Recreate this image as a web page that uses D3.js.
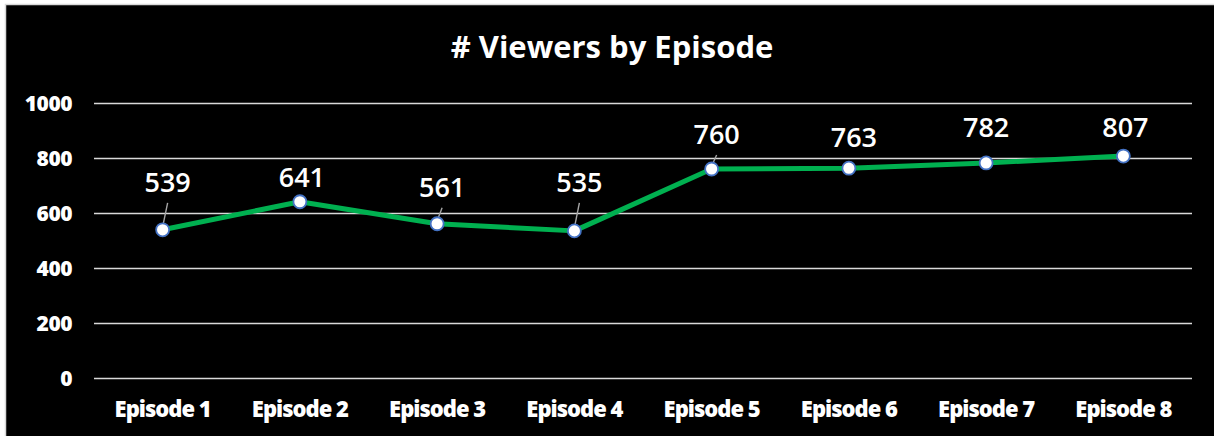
<!DOCTYPE html>
<html>
<head>
<meta charset="utf-8">
<script src="https://cdn.jsdelivr.net/npm/d3@7"></script>
<style>
  html, body { margin: 0; padding: 0; background: #fff; }
  svg { display: block; }
  text { font-family: "Open Sans", "Noto Sans", sans-serif; fill: #fff; }
</style>
</head>
<body>
<svg id="chart" width="1214" height="436"></svg>
<script>
// ---- data ----
const categories = ["Episode 1", "Episode 2", "Episode 3", "Episode 4", "Episode 5", "Episode 6", "Episode 7", "Episode 8"];
const viewers = [539, 641, 561, 535, 760, 763, 782, 807];
const yTicks = [0, 200, 400, 600, 800, 1000];
const titleText = "# Viewers by Episode";

// ---- layout (label nudges relative to each point, in px) ----
const labelDx = [5, 2, 5, 5, 5, 5, 0, 2];
const labelDy = [-38, -15, -27, -39, -25, -21, -26, -19];
const leaderShown = [true, false, true, true, true, false, false, false];

const W = 1214, H = 436;
const plot = { left: 94, right: 1192, top: 103, bottom: 378 };

const svg = d3.select("#chart");

// background frame
svg.append("rect")
  .attr("x", 5.5).attr("y", 4.5)
  .attr("width", W).attr("height", H)
  .attr("fill", "#000")
  .attr("stroke", "#d9d9d9").attr("stroke-width", 1.5);

const x = d3.scaleBand().domain(categories).range([plot.left, plot.right]);
const y = d3.scaleLinear().domain([0, 1000]).range([plot.bottom, plot.top]);

// title
svg.append("text")
  .attr("x", 612).attr("y", 58)
  .attr("text-anchor", "middle")
  .attr("font-size", 31).attr("font-weight", 700)
  .text(titleText);

// gridlines + y labels via axis
const yAxis = d3.axisLeft(y).tickValues(yTicks).tickSize(-(plot.right - plot.left)).tickFormat(d3.format("d"));
const gy = svg.append("g").attr("transform", `translate(${plot.left},0)`).call(yAxis);
gy.select(".domain").remove();
gy.selectAll(".tick line").attr("stroke", "#d9d9d9").attr("stroke-width", 1.5);
gy.selectAll(".tick text")
  .attr("x", -22).attr("dy", "0.36em")
  .attr("fill", "#fff")
  .style("font-family", "'Open Sans', sans-serif")
  .style("font-size", "21px").style("font-weight", 800)
  .style("letter-spacing", "-0.5px");

// x labels via axis
const xAxis = d3.axisBottom(x).tickSize(0);
const gx = svg.append("g").attr("transform", `translate(0,${plot.bottom})`).call(xAxis);
gx.select(".domain").remove();
gx.selectAll(".tick text")
  .attr("y", 39).attr("dy", 0)
  .attr("fill", "#fff")
  .style("font-family", "'Open Sans', sans-serif")
  .style("font-size", "22px").style("font-weight", 800)
  .style("letter-spacing", "-1px");

const pts = categories.map((c, i) => ({ c, v: viewers[i], i, cx: x(c) + x.bandwidth() / 2, cy: y(viewers[i]) }));

// leader lines
pts.filter(p => leaderShown[p.i]).forEach(p => {
  const lx = p.cx + labelDx[p.i], ly = p.cy + labelDy[p.i] + 11;
  svg.append("line")
    .attr("x1", lx).attr("y1", ly)
    .attr("x2", p.cx).attr("y2", p.cy - 3)
    .attr("stroke", "#a6a6a6").attr("stroke-width", 1.4);
});

// line
const line = d3.line().x(p => p.cx).y(p => p.cy);
svg.append("path").datum(pts)
  .attr("d", line)
  .attr("fill", "none")
  .attr("stroke", "#00b050").attr("stroke-width", 5)
  .attr("stroke-linejoin", "round");

// markers
svg.selectAll("circle.m").data(pts).join("circle")
  .attr("class", "m")
  .attr("cx", p => p.cx).attr("cy", p => p.cy).attr("r", 6.5)
  .attr("fill", "#fff").attr("stroke", "#4472c4").attr("stroke-width", 1.8);

// data labels
svg.selectAll("text.lbl").data(pts).join("text")
  .attr("class", "lbl")
  .attr("x", p => p.cx + labelDx[p.i])
  .attr("y", p => p.cy + labelDy[p.i])
  .attr("text-anchor", "middle")
  .attr("font-size", 27).attr("font-weight", 600)
  .text(p => p.v);
</script>
</body>
</html>
